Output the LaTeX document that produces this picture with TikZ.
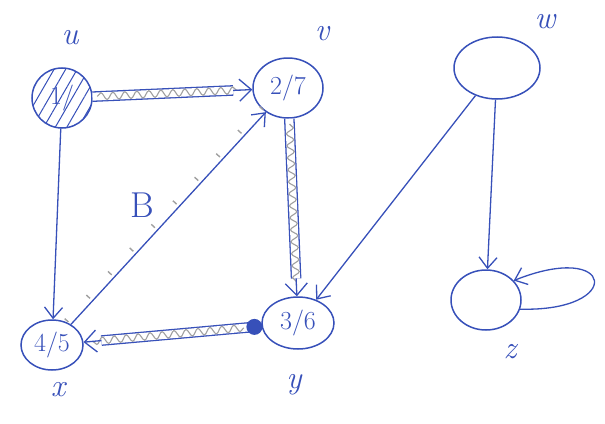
\documentclass[tikz,border=0pt]{standalone}
\usetikzlibrary{shapes.geometric,arrows.meta,decorations.pathmorphing,decorations.pathreplacing,patterns.meta,calc}
\definecolor{ink}{RGB}{55,80,185}
\definecolor{pencil}{RGB}{160,160,160}
\begin{document}
\begin{tikzpicture}[x=1pt,y=-1pt,
  vtx/.style={draw=ink, line width=1.5pt, ellipse, inner sep=0pt, font=\fontsize{26}{26}\selectfont, text=ink},
  lbl/.style={text=ink, font=\fontsize{32}{32}\selectfont\itshape},
  arr/.style={draw=ink, line width=1.3pt, -{Straight Barb[length=11pt,width=18pt]}},
  bandline/.style={draw=ink, line width=1.3pt, double=white, double distance=8pt},
  zig/.style={draw=pencil, line width=1.1pt, decorate, decoration={snake, amplitude=3.5pt, segment length=12pt}},
  tip/.style={draw=ink, line width=1.3pt, -{Straight Barb[length=12pt,width=22pt]}},
  tickline/.style={draw=pencil, line width=1.4pt, decorate, decoration={ticks, amplitude=2.5pt, segment length=32pt, raise=6pt}},
]
\useasboundingbox (0,0) rectangle (605,423);
% vertices
\node[vtx, minimum width=60pt, minimum height=60pt, pattern={Lines[angle=60,distance=10pt,line width=1pt]}, pattern color=ink] (u) at (62,98) {1/};
\node[vtx, minimum width=70pt, minimum height=60pt] (v) at (288,88) {2/7};
\node[vtx, minimum width=86pt, minimum height=62pt] (w) at (497,68) {};
\node[vtx, minimum width=62pt, minimum height=50pt] (x) at (52,345) {4/5};
\node[vtx, minimum width=72pt, minimum height=52pt] (y) at (298,323) {3/6};
\node[vtx, minimum width=70pt, minimum height=60pt] (z) at (486,300) {};
% vertex labels
\node[lbl] (lu) at (70,38) {u};
\node[lbl] (lv) at (322,34) {v};
\node[lbl] (lw) at (545,22) {w};
\node[lbl] (lx) at (58,390) {x};
\node[lbl] (ly) at (294,385) {y};
\node[lbl] (lz) at (510,352) {z};
\node[text=ink, font=\fontsize{36}{36}\selectfont] (lB) at (142,205) {B};
% plain edges
\draw[arr] (u) -- (x);
\draw[tickline] (x) -- (v);
\draw[arr] (x) -- (v);
\draw[arr] (w) -- (y);
\draw[arr] (w) -- (z);
\draw[arr] (z.-15) .. controls (625,312) and (615,240) .. (z.35);
% tree edges
\path (u) -- (v) coordinate[pos=0.03] (uv1) coordinate[pos=0.92] (uv2) coordinate[pos=0.88] (uvt);
\draw[bandline] (u) -- (uvt);
\draw[zig] (uv1) -- (uv2);
\draw[tip] (uvt) -- (v);
\path (v) -- (y) coordinate[pos=0.03] (vy1) coordinate[pos=0.92] (vy2) coordinate[pos=0.9] (vyt);
\draw[bandline] (v) -- (vyt);
\draw[zig] (vy1) -- (vy2);
\draw[tip] (vyt) -- (y);
\path (y) -- (x) coordinate[pos=0.04] (yx0) coordinate[pos=0.1] (yx1) coordinate[pos=0.95] (yx2) coordinate[pos=0.9] (yxt);
\draw[bandline] (yx0) -- (yxt);
\draw[zig] (yx1) -- (yx2);
\draw[tip] (yxt) -- (x);
\fill[ink] (yx0) circle (8pt);
\end{tikzpicture}
\end{document}
